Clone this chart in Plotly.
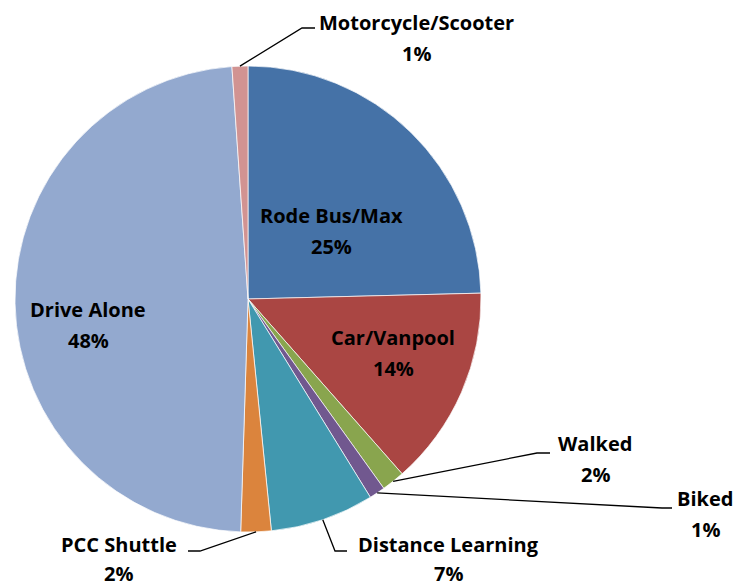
import math
import plotly.graph_objects as go

W, H = 737, 586

modes = ["Rode Bus/Max", "Car/Vanpool", "Walked", "Biked", "Distance Learning",
         "PCC Shuttle", "Drive Alone", "Motorcycle/Scooter"]
shares = [24.6, 13.9, 1.6, 1.1, 7.2, 2.1, 48.4, 1.1]
colors = ["#4572A7", "#AA4643", "#89A54E", "#71588F", "#4198AF",
          "#DB843D", "#93A9CF", "#D19392"]

# pie geometry in pixels
CX, CY, R = 248, 299, 233

# label placement (pixel centre of the name line, gap to the % line)
label_pos = {
    "Rode Bus/Max": (331, 215, 31),
    "Car/Vanpool": (393, 337, 31),
    "Walked": (595, 443, 31),
    "Biked": (705, 498, 31),
    "Distance Learning": (448, 544, 29),
    "PCC Shuttle": (119, 544, 29),
    "Drive Alone": (88, 309, 31),
    "Motorcycle/Scooter": (416, 22, 31),
}
# leader line elbow and end for the outside labels
leaders = {
    "Walked": [(537, 453), (550, 453)],
    "Biked": [(662, 508), (672, 508)],
    "Distance Learning": [(335, 551), (347, 551)],
    "PCC Shuttle": [(200, 551), (188, 551)],
    "Motorcycle/Scooter": [(302, 28), (315, 28)],
}


def px(x, y):
    return x / W, 1 - y / H


fig = go.Figure(go.Pie(
    labels=modes, values=shares, sort=False, direction="clockwise", rotation=0,
    marker=dict(colors=colors, line=dict(color="white", width=0.7)),
    textinfo="none", hoverinfo="label+percent",
    domain=dict(x=[(CX - R) / W, (CX + R) / W],
                y=[(H - CY - R) / H, (H - CY + R) / H]),
))

total = sum(shares)
cum = 0
annotations = []
shapes = []
for name, val in zip(modes, shares):
    mid = (cum + val / 2) / total * 2 * math.pi
    cum += val
    lx, ly, gap = label_pos[name]
    for text, yy in [(name, ly), (f"{round(val / total * 100)}%", ly + gap)]:
        ax, ay = px(lx, yy)
        annotations.append(dict(
            x=ax, y=ay, xref="paper", yref="paper", text=text, showarrow=False,
            xanchor="center", yanchor="middle",
            font=dict(family="Open Sans", size=20, color="black", weight="bold")))
    if name in leaders:
        sx, sy = CX + R * math.sin(mid), CY - R * math.cos(mid)
        pts = [px(sx, sy)] + [px(x, y) for x, y in leaders[name]]
        path = "M " + " L ".join(f"{x},{y}" for x, y in pts)
        shapes.append(dict(type="path", path=path, xref="paper", yref="paper",
                           line=dict(color="black", width=1.3)))

fig.update_layout(
    width=W, height=H, margin=dict(l=0, r=0, t=0, b=0),
    paper_bgcolor="white", showlegend=False,
    annotations=annotations, shapes=shapes,
)

# drop the default page margin so the figure sits at the window's corner
fig.write_html("out.html", config={"displayModeBar": False},
               post_script="document.body.style.margin='0';")
